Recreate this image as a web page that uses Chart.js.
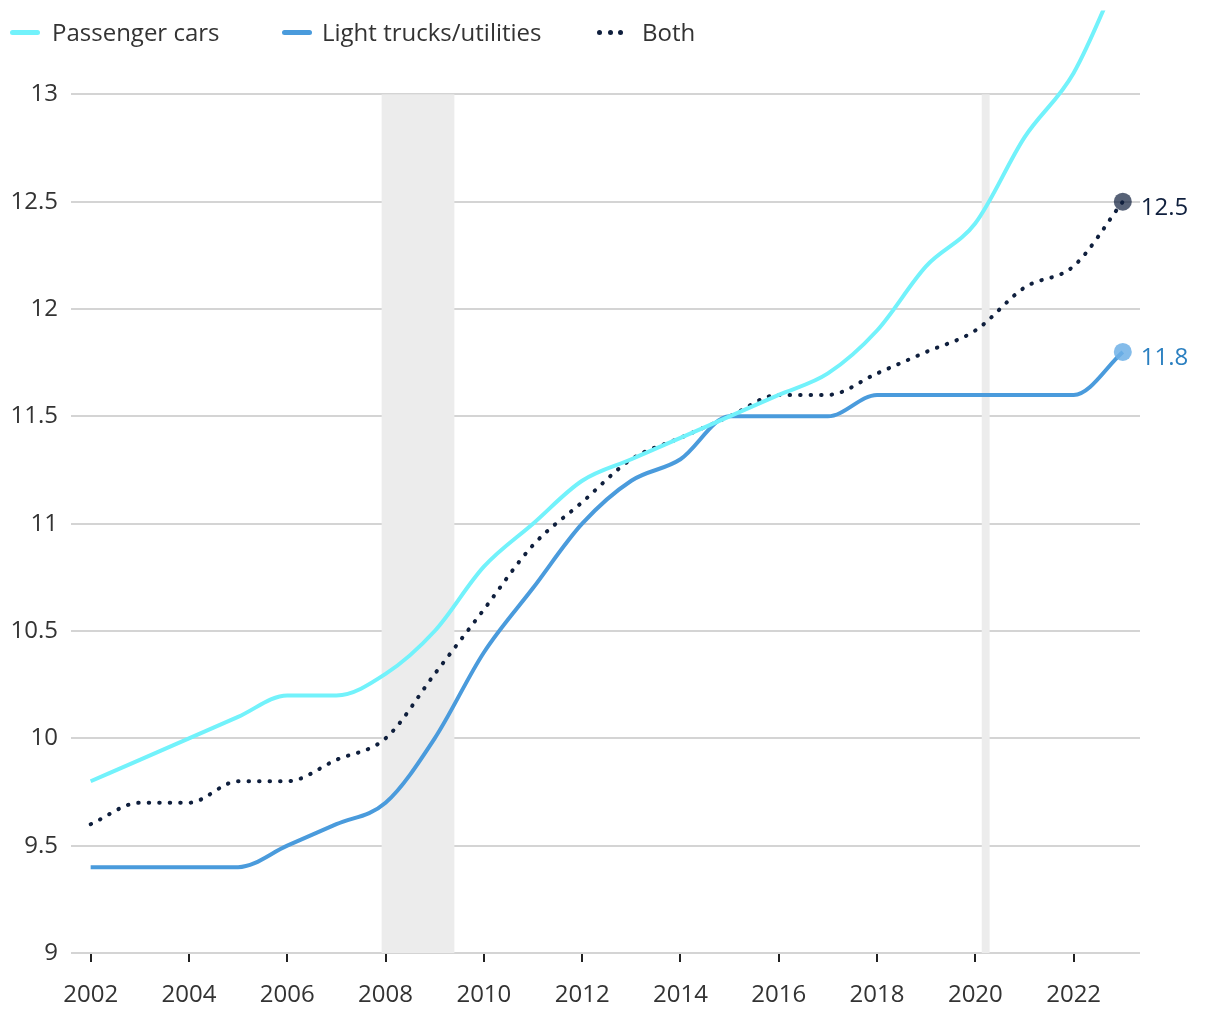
<!DOCTYPE html>
<html>
<head>
<meta charset="utf-8">
<script src="https://cdn.jsdelivr.net/npm/chart.js@4"></script>
<style>
  html, body { margin: 0; padding: 0; background: #fff; }
  #wrap { position: relative; width: 1220px; height: 1020px; }
  .legend { position: absolute; top: 0; left: 0; font: 24px "Open Sans", sans-serif; color: #333; }
  .legend .item { position: absolute; top: 16px; display: flex; align-items: center; height: 32px; white-space: nowrap; }
  .legend .swatch { width: 30px; height: 5px; border-radius: 3px; }
  .legend .dots { width: 26px; display: flex; justify-content: space-between; }
  .legend .dots span { width: 5px; height: 5px; border-radius: 50%; background: #0f1f3d; }
  .legend .txt { position: absolute; top: -1px; }
</style>
</head>
<body>
<div id="wrap">
  <canvas id="chart" width="1220" height="1020"></canvas>
  <div class="legend">
    <div class="item" style="left:10px"><div class="swatch" style="background:#72f2fb"></div><span class="txt" style="left:42px">Passenger cars</span></div>
    <div class="item" style="left:282px"><div class="swatch" style="background:#4a9bdc"></div><span class="txt" style="left:40px">Light trucks/utilities</span></div>
    <div class="item" style="left:597px"><div class="dots"><span></span><span></span><span></span></div><span class="txt" style="left:45px">Both</span></div>
  </div>
</div>
<script>
// average vehicle age, years
const years = [2002, 2003, 2004, 2005, 2006, 2007, 2008, 2009, 2010, 2011, 2012,
  2013, 2014, 2015, 2016, 2017, 2018, 2019, 2020, 2021, 2022, 2023];
const passengerCars = [9.8, 9.9, 10.0, 10.1, 10.2, 10.2, 10.3, 10.5, 10.8, 11.0, 11.2,
  11.3, 11.4, 11.5, 11.6, 11.7, 11.9, 12.2, 12.4, 12.8, 13.1, 13.6];
const lightTrucks = [9.4, 9.4, 9.4, 9.4, 9.5, 9.6, 9.7, 10.0, 10.4, 10.7, 11.0,
  11.2, 11.3, 11.5, 11.5, 11.5, 11.6, 11.6, 11.6, 11.6, 11.6, 11.8];
const both = [9.6, 9.7, 9.7, 9.8, 9.8, 9.9, 10.0, 10.3, 10.6, 10.9, 11.1,
  11.3, 11.4, 11.5, 11.6, 11.6, 11.7, 11.8, 11.9, 12.1, 12.2, 12.5];
const xTicks = [2002, 2004, 2006, 2008, 2010, 2012, 2014, 2016, 2018, 2020, 2022];
const yTicks = [9, 9.5, 10, 10.5, 11, 11.5, 12, 12.5, 13];
// recessions (Dec 2007 - Jun 2009, Feb - Apr 2020)
const recessions = [[2007.92, 2009.4], [2020.13, 2020.29]];

const toPoints = arr => arr.map((v, i) => ({ x: years[i], y: v }));
const last = years.length - 1;
const lineClip = { top: 17, left: 6, right: 6, bottom: 6 };

const shading = {
  id: 'shading',
  beforeDatasetsDraw(chart) {
    const { ctx, scales: { x, y } } = chart;
    ctx.save();
    ctx.fillStyle = '#ececec';
    const top = y.getPixelForValue(13), bottom = y.getPixelForValue(9);
    recessions.forEach(([a, b]) => {
      const x1 = x.getPixelForValue(a), x2 = x.getPixelForValue(b);
      ctx.fillRect(x1, top, x2 - x1, bottom - top);
    });
    ctx.restore();
  }
};

const endLabels = {
  id: 'endLabels',
  afterDatasetsDraw(chart) {
    const { ctx, scales: { x, y } } = chart;
    ctx.save();
    ctx.font = '24px "Open Sans", sans-serif';
    ctx.textBaseline = 'middle';
    const items = [
      { v: both[last], color: '#0f1f3d' },
      { v: lightTrucks[last], color: '#2a7fc0' }
    ];
    items.forEach(it => {
      ctx.fillStyle = it.color;
      ctx.fillText(String(it.v), x.getPixelForValue(years[last]) + 18, y.getPixelForValue(it.v) + 6);
    });
    ctx.restore();
  }
};

new Chart(document.getElementById('chart'), {
  type: 'line',
  data: {
    datasets: [
      {
        label: 'Passenger cars',
        data: toPoints(passengerCars),
        borderColor: '#72f2fb',
        borderWidth: 4,
        pointRadius: 0,
        clip: lineClip,
        cubicInterpolationMode: 'monotone'
      },
      {
        label: 'Light trucks/utilities',
        data: toPoints(lightTrucks),
        borderColor: '#4a9bdc',
        borderWidth: 4,
        pointRadius: c => c.dataIndex === last ? 9 : 0,
        pointBackgroundColor: 'rgba(110,176,230,0.85)',
        pointBorderWidth: 0,
        clip: lineClip,
        cubicInterpolationMode: 'monotone'
      },
      {
        label: 'Both',
        data: toPoints(both),
        borderColor: '#0f1f3d',
        borderWidth: 4,
        borderDash: [0.5, 10],
        borderCapStyle: 'round',
        pointRadius: c => c.dataIndex === last ? 9 : 0,
        pointBackgroundColor: 'rgba(15,31,61,0.7)',
        pointBorderWidth: 0,
        clip: lineClip,
        cubicInterpolationMode: 'monotone'
      }
    ]
  },
  options: {
    responsive: false,
    animation: false,
    layout: { padding: { top: 10, right: 80, left: 0, bottom: 0 } },
    plugins: { legend: { display: false }, tooltip: { enabled: false } },
    scales: {
      x: {
        type: 'linear',
        min: 2001.6,
        max: 2023.35,
        afterBuildTicks: axis => { axis.ticks = xTicks.map(v => ({ value: v })); },
        afterFit: axis => { axis.height = 67; },
        grid: { drawOnChartArea: false, drawTicks: true, tickLength: 9, color: '#222', lineWidth: 2 },
        border: { display: false },
        ticks: { font: { family: 'Open Sans', size: 24 }, color: '#333', padding: 19, maxRotation: 0, callback: v => String(v) }
      },
      y: {
        min: 9,
        max: 13.312,
        afterBuildTicks: axis => { axis.ticks = yTicks.map(v => ({ value: v })); },
        afterFit: axis => { axis.width = 71; },
        grid: { drawTicks: false, color: '#d4d4d4', lineWidth: 2 },
        border: { display: false },
        ticks: { font: { family: 'Open Sans', size: 24 }, color: '#333', padding: 13, callback: v => String(v) }
      }
    }
  },
  plugins: [shading, endLabels]
});
</script>
</body>
</html>
